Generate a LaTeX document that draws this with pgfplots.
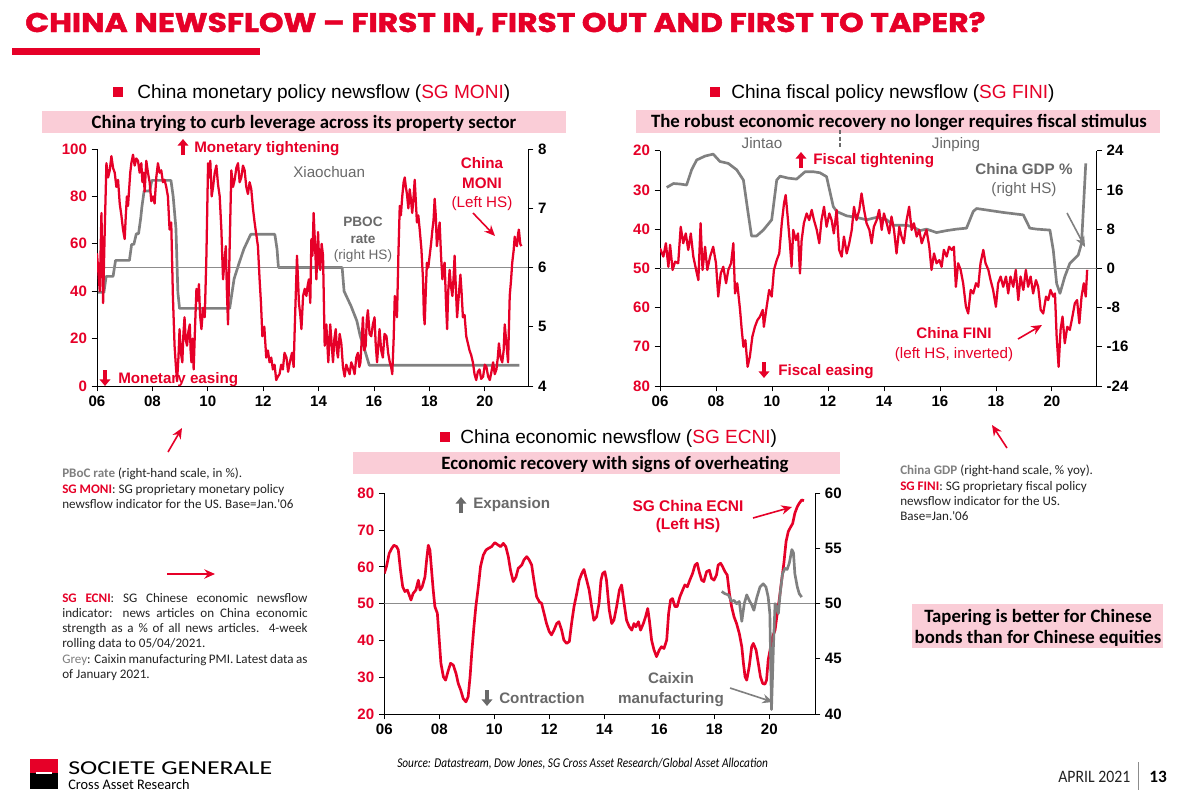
\documentclass[border=0pt]{standalone}
\usepackage{fontspec}
\setmainfont{Liberation Sans}
\newfontfamily\calfont{Carlito}
\newfontfamily\titlefont{Poppins}[BoldFeatures={FakeBold=1.6}]
\usepackage{graphicx}
\usepackage{pgfplots}
\pgfplotsset{compat=1.18}
\usetikzlibrary{arrows.meta}

\definecolor{sgred}{RGB}{230,0,40}
\definecolor{sggrey}{RGB}{128,128,128}
\definecolor{labgrey}{RGB}{105,105,105}
\definecolor{refgrey}{RGB}{140,140,140}
\definecolor{pinkbox}{RGB}{250,205,215}
\definecolor{notetxt}{RGB}{35,35,35}
\newcommand{\fsz}[1]{\fontsize{#1}{#1}\selectfont}

\pgfplotsset{
  sgaxis/.style={
    scale only axis,
    axis line style={line width=0.6pt,black},
    every tick/.style={line width=0.6pt,black},
    major tick length=4pt,
    tick align=outside,
    enlargelimits=false,
    xmin=2006,
    xtick={2006,2008,2010,2012,2014,2016,2018,2020},
    xticklabels={06,08,10,12,14,16,18,20},
    ticklabel style={font=\bfseries\fsz{11.3}},
    xticklabel style={text=black},
  },
  leftax/.style={sgaxis, axis y line*=left, axis x line*=bottom, yticklabel style={text=sgred}},
  rightax/.style={sgaxis, axis y line*=right, axis x line=none, yticklabel style={text=black}},
  redline/.style={sgred, line width=1.7pt, line join=round},
  greyline/.style={sggrey, line width=2pt, line join=round},
  refline/.style={refgrey, line width=1pt},
}

\begin{document}
\begin{tikzpicture}[x=0.75pt,y=-0.75pt]
\useasboundingbox (0,0) rectangle (1178,800);
\fill[white] (0,0) rectangle (1178,800);

% ---------- title ----------
\node[anchor=base west, inner sep=0pt, text=sgred] at (25,32)
  {\resizebox{720pt}{15pt}{\titlefont\bfseries CHINA NEWSFLOW – FIRST IN, FIRST OUT AND FIRST TO TAPER?}};
\fill[sgred] (12,48) rectangle (260,55);

% ---------- headers ----------
\fill[sgred] (113,87) rectangle (123,97);
\node[anchor=base west, inner sep=0pt, font=\fsz{14.3}] at (137,98) {China monetary policy newsflow ({\color{sgred}SG MONI})};
\fill[sgred] (710,87) rectangle (720,97);
\node[anchor=base west, inner sep=0pt, font=\fsz{14.3}] at (731,98) {China fiscal policy newsflow ({\color{sgred}SG FINI})};
\fill[sgred] (440,432) rectangle (450,442);
\node[anchor=base west, inner sep=0pt, font=\fsz{14.3}] at (460,443) {China economic newsflow ({\color{sgred}SG ECNI})};

\fill[pinkbox] (42,111) rectangle (566,133);
\node[anchor=base, inner sep=0pt, font=\calfont\bfseries\fsz{14.1}] at (304,128) {China trying to curb leverage across its property sector};
\fill[pinkbox] (636,110) rectangle (1160,133);
\node[anchor=base, inner sep=0pt, font=\calfont\bfseries\fsz{14.1}] at (899,127) {The robust economic recovery no longer requires fiscal stimulus};
\fill[pinkbox] (353,452) rectangle (840,474);
\node[anchor=base, inner sep=0pt, font=\calfont\bfseries\fsz{14.1}] at (615,469) {Economic recovery with signs of overheating};
\fill[pinkbox] (912,604) rectangle (1163,648);
\node[anchor=base, inner sep=0pt, font=\calfont\bfseries\fsz{14.1}] at (1038,622) {Tapering is better for Chinese};
\node[anchor=base, inner sep=0pt, font=\calfont\bfseries\fsz{14.1}] at (1038,643) {bonds than for Chinese equities};

% ---------- chart 1: MONI ----------
\begin{axis}[rightax, at={(72.75pt,-289.5pt)}, anchor=south west,
  width=323.25pt, height=177.75pt, xmax=2021.56,
  ymin=4, ymax=8, ytick={4,5,6,7,8}, yticklabels={4,5,6,7,8}]
\addplot[greyline] coordinates {
(2006.00,5.58)(2006.25,5.58)(2006.33,5.85)(2006.58,5.85)(2006.67,6.12)(2007.17,6.12)
(2007.25,6.39)(2007.33,6.39)(2007.42,6.57)(2007.50,6.57)(2007.58,6.84)(2007.62,7.02)
(2007.70,7.29)(2007.90,7.29)(2007.98,7.47)(2008.67,7.47)(2008.75,7.20)(2008.80,6.93)
(2008.85,6.66)(2008.92,5.58)(2008.98,5.31)(2010.79,5.31)(2010.87,5.56)(2010.95,5.81)
(2011.12,6.06)(2011.30,6.31)(2011.55,6.56)(2012.42,6.56)(2012.50,6.31)(2012.55,6.00)
(2014.85,6.00)(2014.92,5.60)(2015.17,5.35)(2015.38,5.10)(2015.50,4.85)(2015.67,4.60)
(2015.83,4.35)(2021.25,4.35)};
\end{axis}
\begin{axis}[leftax, at={(72.75pt,-289.5pt)}, anchor=south west,
  width=323.25pt, height=177.75pt, xmax=2021.56,
  ymin=0, ymax=100, ytick={0,20,40,60,80,100}, yticklabels={0,20,40,60,80,100}]
\addplot[refline] coordinates {(2006,50)(2021.56,50)};
\addplot[redline] coordinates {
(2006.00,56)(2006.10,40)(2006.16,73)(2006.22,35)(2006.28,66)(2006.34,94)(2006.40,88)(2006.46,91)
(2006.52,97)(2006.58,92)(2006.64,90)(2006.70,84)(2006.76,87)(2006.82,77)(2006.88,72)(2006.94,66)
(2007.00,62)(2007.04,72)(2007.08,80)(2007.12,76)(2007.16,83)(2007.20,90)(2007.24,94)(2007.30,97.6)
(2007.36,93)(2007.42,96)(2007.48,95)(2007.54,90)(2007.60,94)(2007.64,86)(2007.68,90)(2007.72,82)
(2007.78,95)(2007.84,90)(2007.90,86)(2007.96,78)(2008.02,80)(2008.08,77)(2008.14,88)(2008.20,94)
(2008.26,90)(2008.32,91)(2008.38,86)(2008.44,87)(2008.50,84)(2008.56,80)(2008.62,66)(2008.68,69)
(2008.74,38)(2008.80,17)(2008.85,8)(2008.89,2)(2008.94,12)(2008.98,24)(2009.03,14)(2009.08,10)
(2009.12,22)(2009.16,29)(2009.20,20)(2009.25,17)(2009.30,23)(2009.35,26)(2009.38,15)(2009.41,10)
(2009.45,20)(2009.49,7)(2009.54,25)(2009.59,41)(2009.64,36)(2009.68,43)(2009.72,30)(2009.77,24)
(2009.83,33)(2009.89,29)(2009.95,55)(2010.01,94)(2010.05,88)(2010.09,95)(2010.14,80)(2010.19,84)
(2010.25,90)(2010.31,93)(2010.37,85)(2010.43,80)(2010.49,66)(2010.55,45)(2010.60,52)(2010.65,59)
(2010.69,40)(2010.73,26)(2010.79,59)(2010.85,91)(2010.91,84)(2010.97,87)(2011.03,92)(2011.09,94)
(2011.15,86)(2011.21,88)(2011.27,93)(2011.33,91)(2011.39,84)(2011.45,81)(2011.51,86)(2011.57,83)
(2011.63,75)(2011.69,69)(2011.75,64)(2011.81,59)(2011.87,45)(2011.92,35)(2011.97,21)(2012.04,25)
(2012.11,12)(2012.17,15)(2012.23,10)(2012.29,12)(2012.35,7)(2012.41,9)(2012.47,2.5)(2012.53,4)
(2012.59,5)(2012.65,9)(2012.71,7)(2012.77,14)(2012.84,12)(2012.90,6)(2012.96,10)(2013.04,14)
(2013.10,8)(2013.14,25)(2013.18,40)(2013.22,55)(2013.26,44)(2013.29,35)(2013.34,30)(2013.38,24)
(2013.44,38)(2013.50,41)(2013.56,38)(2013.60,42)(2013.65,45)(2013.70,35)(2013.74,62)(2013.78,55)
(2013.82,73)(2013.87,60)(2013.92,45)(2013.98,65)(2014.02,52)(2014.06,49)(2014.11,60)(2014.16,55)
(2014.22,17)(2014.28,26)(2014.35,10)(2014.42,26)(2014.47,18)(2014.52,10)(2014.57,20)(2014.62,24)
(2014.66,15)(2014.70,12)(2014.76,22)(2014.82,18)(2014.88,8)(2014.94,4)(2015.00,9)(2015.06,7)
(2015.12,5)(2015.18,10)(2015.24,8)(2015.30,5)(2015.36,12)(2015.42,14)(2015.47,8)(2015.51,10)
(2015.56,20)(2015.60,29)(2015.65,15)(2015.70,17)(2015.74,28)(2015.78,32)(2015.84,22)(2015.90,21)
(2015.96,26)(2016.02,29)(2016.06,18)(2016.11,10)(2016.16,18)(2016.20,24)(2016.26,15)(2016.32,12)
(2016.38,22)(2016.45,21)(2016.51,14)(2016.57,10)(2016.62,8)(2016.66,5)(2016.71,20)(2016.75,38)
(2016.79,35)(2016.83,29)(2016.88,55)(2016.93,76)(2016.97,72)(2017.02,80)(2017.07,86)(2017.11,88)
(2017.15,84)(2017.19,81)(2017.24,75)(2017.29,83)(2017.34,78)(2017.38,73)(2017.43,80)(2017.47,87)
(2017.51,78)(2017.55,69)(2017.60,72)(2017.65,66)(2017.71,58)(2017.77,45)(2017.80,30)(2017.83,26)
(2017.87,40)(2017.91,52)(2017.96,50)(2018.01,55)(2018.06,60)(2018.11,66)(2018.15,70)(2018.19,79)
(2018.23,72)(2018.27,59)(2018.32,64)(2018.37,69)(2018.42,55)(2018.47,45)(2018.51,50)(2018.55,52)
(2018.60,35)(2018.64,24)(2018.68,40)(2018.73,49)(2018.78,42)(2018.83,38)(2018.87,45)(2018.91,55)
(2018.96,40)(2019.00,29)(2019.06,38)(2019.12,47)(2019.16,40)(2019.21,29)(2019.27,30)(2019.33,21)
(2019.39,18)(2019.45,15)(2019.51,13)(2019.57,10)(2019.63,5)(2019.69,2.5)(2019.75,6)(2019.81,7)
(2019.87,3)(2019.94,4)(2020.00,9)(2020.06,8)(2020.12,4)(2020.18,2.5)(2020.24,6)(2020.30,10)
(2020.36,5)(2020.42,7)(2020.47,12)(2020.51,18)(2020.57,12)(2020.63,10)(2020.68,15)(2020.72,26)
(2020.78,18)(2020.84,10)(2020.90,38)(2020.95,45)(2020.99,52)(2021.04,57)(2021.08,63)(2021.12,60)
(2021.16,59)(2021.20,64)(2021.23,66)(2021.28,60)(2021.32,59)};
\end{axis}

% chart 1 annotations
\draw[sgred, line width=2.4pt, -{Triangle[length=5pt,width=8pt]}] (183,155) -- (183,139);
\node[anchor=base west, inner sep=0pt, text=sgred, font=\bfseries\fsz{11.4}] at (194,152) {Monetary tightening};
\node[anchor=base west, inner sep=0pt, text=labgrey, font=\fsz{11.4}] at (293,177) {Xiaochuan};
\node[anchor=base, inner sep=0pt, text=sgred, font=\bfseries\fsz{11.4}] at (482,168) {China};
\node[anchor=base, inner sep=0pt, text=sgred, font=\bfseries\fsz{11.4}] at (482,188) {MONI};
\node[anchor=base, inner sep=0pt, text=sgred, font=\fsz{11.4}] at (482,207) {(Left HS)};
\node[anchor=base, inner sep=0pt, text=labgrey, font=\bfseries\fsz{10.2}] at (363,226) {PBOC};
\node[anchor=base, inner sep=0pt, text=labgrey, font=\bfseries\fsz{10.2}] at (363,243) {rate};
\node[anchor=base, inner sep=0pt, text=labgrey, font=\fsz{10.2}] at (363,259) {(right HS)};
\draw[sgred, line width=2.4pt, -{Triangle[length=5pt,width=8pt]}] (105,370) -- (105,386);
\node[anchor=base west, inner sep=0pt, text=sgred, font=\bfseries\fsz{11.4}] at (118,383) {Monetary easing};
\draw[sgred, line width=1.2pt, -{Stealth[length=8pt,width=7pt]}] (473,213) -- (495,236);

% ---------- chart 2: FINI ----------
\begin{axis}[rightax, at={(495pt,-289.5pt)}, anchor=south west,
  width=327.5pt, height=176.5pt, xmax=2021.6,
  ymin=-24, ymax=24, ytick={-24,-16,-8,0,8,16,24}, yticklabels={-24,-16,-8,0,8,16,24}]
\addplot[greyline] coordinates {
(2006.24,16.5)(2006.48,17.3)(2006.71,17.2)(2006.95,17.0)(2007.13,20.1)(2007.31,22.1)
(2007.61,22.9)(2007.90,23.3)(2008.14,21.8)(2008.44,21.4)(2008.74,20.1)(2008.98,18.0)
(2009.15,11.2)(2009.27,6.6)(2009.45,6.6)(2009.69,7.8)(2009.99,9.9)(2010.17,18.0)
(2010.29,18.8)(2010.58,18.4)(2010.88,18.2)(2011.18,19.7)(2011.48,19.7)(2011.71,19.5)
(2011.95,18.7)(2012.19,12.6)(2012.31,11.6)(2012.67,10.7)(2013.02,10.4)(2013.38,9.9)
(2013.74,10.4)(2014.10,9.9)(2014.33,8.8)(2014.81,8.8)(2015.05,8.4)(2015.29,7.7)
(2015.52,8.0)(2015.88,7.3)(2016.24,7.7)(2016.60,8.0)(2016.95,8.2)(2017.19,11.6)
(2017.31,12.2)(2017.67,11.9)(2018.26,11.4)(2018.98,10.9)(2019.21,8.2)(2019.45,8.0)
(2019.93,7.8)(2020.05,3.7)(2020.17,-3.1)(2020.29,-5.1)(2020.46,-1.7)(2020.64,1.0)
(2020.94,2.7)(2021.06,5.1)(2021.21,21.4)};
\end{axis}
\begin{axis}[leftax, at={(495pt,-289.5pt)}, anchor=south west,
  width=327.5pt, height=176.5pt, xmax=2021.6, y dir=reverse,
  ymin=20, ymax=80, ytick={20,30,40,50,60,70,80}, yticklabels={20,30,40,50,60,70,80}]
\addplot[refline] coordinates {(2006,50)(2021.6,50)};
\addplot[redline] coordinates {
(2006.00,44.9)(2006.12,47.0)(2006.21,43.6)(2006.30,49.6)(2006.36,44.0)(2006.45,50.4)
(2006.54,48.3)(2006.65,48.7)(2006.74,39.4)(2006.83,43.6)(2006.92,41.1)(2007.01,45.3)
(2007.10,41.1)(2007.19,47.0)(2007.29,50.4)(2007.37,53.0)(2007.45,38.5)(2007.52,50.4)
(2007.61,44.5)(2007.69,50.4)(2007.79,47.0)(2007.90,44.5)(2008.00,48.7)(2008.08,57.2)
(2008.17,51.3)(2008.26,49.6)(2008.36,53.8)(2008.44,50.4)(2008.54,48.7)(2008.62,43.6)
(2008.68,56.4)(2008.76,53.8)(2008.86,60.6)(2008.92,65.7)(2008.98,70.0)(2009.05,68.3)
(2009.13,75.1)(2009.21,72.5)(2009.30,67.4)(2009.39,64.9)(2009.48,63.2)(2009.57,62.3)
(2009.67,60.6)(2009.71,64.9)(2009.81,59.8)(2009.90,55.5)(2009.99,57.2)(2010.07,50.4)
(2010.17,47.9)(2010.26,46.2)(2010.35,38.5)(2010.43,33.4)(2010.49,31.3)(2010.56,36.8)
(2010.64,43.6)(2010.70,49.6)(2010.76,40.2)(2010.85,42.8)(2010.93,41.1)(2011.00,51.3)
(2011.06,42.8)(2011.14,38.5)(2011.24,36.0)(2011.33,37.7)(2011.42,35.1)(2011.50,37.7)
(2011.60,40.2)(2011.69,43.6)(2011.77,37.7)(2011.86,34.3)(2011.95,39.4)(2012.05,36.0)
(2012.13,37.7)(2012.21,41.1)(2012.31,35.1)(2012.40,45.3)(2012.49,47.0)(2012.57,41.9)
(2012.67,46.2)(2012.76,43.6)(2012.85,40.2)(2012.93,34.3)(2013.02,37.7)(2013.12,35.1)
(2013.20,30.9)(2013.29,35.1)(2013.38,38.5)(2013.48,40.2)(2013.56,43.6)(2013.64,39.4)
(2013.74,37.7)(2013.83,35.1)(2013.92,40.2)(2014.00,36.0)(2014.10,38.5)(2014.19,41.1)
(2014.27,36.8)(2014.36,40.2)(2014.45,46.2)(2014.55,39.4)(2014.63,41.9)(2014.71,43.6)
(2014.81,37.7)(2014.90,34.3)(2014.99,40.2)(2015.07,38.5)(2015.17,41.9)(2015.26,40.2)
(2015.35,43.6)(2015.43,41.9)(2015.52,40.2)(2015.62,44.5)(2015.70,50.4)(2015.79,46.2)
(2015.88,48.7)(2015.98,47.9)(2016.06,49.6)(2016.14,45.3)(2016.24,47.0)(2016.33,44.5)
(2016.42,45.3)(2016.50,44.5)(2016.57,54.7)(2016.65,48.7)(2016.74,50.4)(2016.83,53.8)
(2016.93,59.8)(2017.01,61.5)(2017.10,55.5)(2017.19,56.4)(2017.29,53.8)(2017.37,54.7)
(2017.45,48.7)(2017.55,45.3)(2017.63,48.7)(2017.73,50.4)(2017.81,53.0)(2017.90,55.5)
(2018.00,59.8)(2018.08,53.8)(2018.17,52.1)(2018.26,54.7)(2018.36,52.1)(2018.44,56.4)
(2018.52,52.1)(2018.62,54.7)(2018.71,50.4)(2018.80,58.1)(2018.88,52.1)(2018.98,55.5)
(2019.07,50.4)(2019.15,54.7)(2019.24,52.1)(2019.33,56.4)(2019.43,53.0)(2019.51,54.7)
(2019.60,60.6)(2019.69,61.5)(2019.79,57.2)(2019.87,58.1)(2019.95,55.5)(2020.05,57.2)
(2020.11,56.4)(2020.17,67.4)(2020.24,75.1)(2020.31,65.7)(2020.38,62.3)(2020.46,69.1)
(2020.55,64.9)(2020.64,65.7)(2020.71,63.2)(2020.82,58.9)(2020.90,58.1)(2020.98,64.0)
(2021.06,57.2)(2021.14,53.8)(2021.21,57.2)(2021.26,50.4)};
\end{axis}

% chart 2 annotations
\node[anchor=base, inner sep=0pt, text=labgrey, font=\fsz{11.4}] at (762,148) {Jintao};
\draw[labgrey, line width=1.2pt, dash pattern=on 3pt off 2pt] (840,130) -- (840,148);
\node[anchor=base, inner sep=0pt, text=labgrey, font=\fsz{11.4}] at (956,148) {Jinping};
\draw[sgred, line width=2.4pt, -{Triangle[length=5pt,width=8pt]}] (801,168) -- (801,152);
\node[anchor=base west, inner sep=0pt, text=sgred, font=\bfseries\fsz{11.4}] at (813,164) {Fiscal tightening};
\node[anchor=base, inner sep=0pt, text=labgrey, font=\bfseries\fsz{11.4}] at (1024,174) {China GDP \%};
\node[anchor=base, inner sep=0pt, text=labgrey, font=\fsz{11.4}] at (1024,193) {(right HS)};
\draw[sggrey, line width=1.2pt, -{Stealth[length=8pt,width=7pt]}] (1067,213) -- (1085,247);
\node[anchor=base, inner sep=0pt, text=sgred, font=\bfseries\fsz{11.4}] at (954,338) {China FINI};
\node[anchor=base, inner sep=0pt, text=sgred, font=\fsz{11.4}] at (954,358) {(left HS, inverted)};
\draw[sgred, line width=1.2pt, -{Stealth[length=8pt,width=7pt]}] (1018,339) -- (1042,325);
\draw[sgred, line width=2.4pt, -{Triangle[length=5pt,width=8pt]}] (764,362) -- (764,378);
\node[anchor=base west, inner sep=0pt, text=sgred, font=\bfseries\fsz{11.4}] at (778,375) {Fiscal easing};

% ---------- chart 3: ECNI ----------
\begin{axis}[leftax, at={(288.2pt,-535.5pt)}, anchor=south west,
  width=323pt, height=165.5pt, xmax=2021.66,
  ymin=20, ymax=80, ytick={20,30,40,50,60,70,80}, yticklabels={20,30,40,50,60,70,80}]
\addplot[refline] coordinates {(2006,50)(2021.66,50)};
\addplot[sgred, line width=2pt, line join=round] coordinates {
(2006.00,58.2)(2006.08,60.1)(2006.18,63.7)(2006.27,65.0)(2006.35,65.9)(2006.45,65.5)
(2006.51,64.6)(2006.59,59.1)(2006.67,54.6)(2006.75,53.3)(2006.84,53.7)(2006.91,52.3)
(2006.97,51.0)(2007.05,52.8)(2007.15,53.7)(2007.24,56.4)(2007.30,53.7)(2007.38,54.6)
(2007.48,57.3)(2007.54,61.9)(2007.60,65.9)(2007.66,64.6)(2007.72,59.1)(2007.78,53.7)
(2007.84,49.2)(2007.93,47.4)(2008.00,40.1)(2008.06,33.8)(2008.15,30.1)(2008.23,29.2)
(2008.33,31.9)(2008.41,33.8)(2008.51,33.3)(2008.61,31.0)(2008.69,28.3)(2008.78,26.5)
(2008.87,24.2)(2008.97,23.3)(2009.05,24.7)(2009.12,30.1)(2009.18,36.5)(2009.26,43.7)
(2009.33,49.2)(2009.42,54.6)(2009.50,60.1)(2009.60,63.2)(2009.70,64.6)(2009.78,65.0)
(2009.90,65.5)(2010.02,66.6)(2010.15,65.9)(2010.23,65.5)(2010.33,66.4)(2010.42,65.5)
(2010.51,62.8)(2010.59,59.1)(2010.69,56.0)(2010.79,57.3)(2010.87,59.6)(2011.00,60.5)
(2011.08,61.9)(2011.18,62.8)(2011.27,61.9)(2011.36,60.5)(2011.44,56.4)(2011.54,51.9)
(2011.64,50.5)(2011.72,50.1)(2011.81,47.4)(2011.90,44.6)(2012.00,42.4)(2012.08,41.5)
(2012.17,42.8)(2012.27,44.6)(2012.35,45.1)(2012.45,42.8)(2012.53,40.1)(2012.63,39.2)
(2012.73,39.7)(2012.81,44.6)(2012.90,49.2)(2013.00,52.8)(2013.09,56.4)(2013.18,58.2)
(2013.26,59.3)(2013.36,56.4)(2013.45,53.7)(2013.54,49.2)(2013.62,45.5)(2013.72,46.4)
(2013.81,50.1)(2013.88,56.4)(2013.94,58.2)(2014.02,58.7)(2014.08,56.4)(2014.18,48.3)
(2014.27,44.6)(2014.35,45.5)(2014.45,49.2)(2014.55,53.7)(2014.63,55.1)(2014.72,50.1)
(2014.81,45.5)(2014.91,43.7)(2015.00,42.8)(2015.08,44.6)(2015.15,43.7)(2015.24,45.1)
(2015.32,42.8)(2015.42,44.6)(2015.50,46.4)(2015.58,48.7)(2015.64,45.5)(2015.72,40.1)
(2015.81,37.4)(2015.90,35.6)(2016.00,37.4)(2016.08,38.3)(2016.17,37.8)(2016.27,40.1)
(2016.34,47.4)(2016.41,51.0)(2016.48,51.4)(2016.57,49.2)(2016.65,49.2)(2016.75,51.9)
(2016.85,53.7)(2016.93,55.1)(2017.02,54.6)(2017.11,56.4)(2017.21,58.2)(2017.30,60.5)
(2017.38,61.0)(2017.45,58.7)(2017.54,56.4)(2017.62,56.0)(2017.72,58.7)(2017.82,59.1)
(2017.90,56.9)(2017.99,56.4)(2018.08,57.8)(2018.14,60.5)(2018.23,61.0)(2018.30,60.1)
(2018.39,58.7)(2018.47,57.8)(2018.55,52.8)(2018.63,49.2)(2018.72,46.4)(2018.81,44.6)
(2018.91,41.9)(2019.00,38.3)(2019.06,33.8)(2019.12,30.1)(2019.18,29.2)(2019.27,32.9)
(2019.36,38.3)(2019.42,39.2)(2019.52,37.4)(2019.60,33.8)(2019.68,30.1)(2019.76,28.3)
(2019.84,28.1)(2019.90,29.2)(2019.96,34.7)(2020.05,38.3)(2020.12,41.0)(2020.21,42.8)
(2020.29,47.4)(2020.36,51.0)(2020.45,56.4)(2020.53,61.0)(2020.61,66.9)(2020.69,69.6)
(2020.78,70.9)(2020.85,71.8)(2020.93,74.6)(2021.02,76.4)(2021.09,77.3)(2021.18,78.2)
(2021.26,78.0)};
\end{axis}
\begin{axis}[rightax, at={(288.2pt,-535.5pt)}, anchor=south west,
  width=323pt, height=165.5pt, xmax=2021.66,
  ymin=40, ymax=60, ytick={40,45,50,55,60}, yticklabels={40,45,50,55,60}]
\addplot[greyline] coordinates {
(2018.27,51.1)(2018.39,50.9)(2018.51,50.8)(2018.63,50.2)(2018.72,50.3)(2018.81,50.0)
(2018.91,50.2)(2019.00,48.4)(2019.09,50.0)(2019.18,50.8)(2019.27,50.3)(2019.36,49.9)
(2019.44,49.4)(2019.54,50.5)(2019.66,51.5)(2019.78,51.8)(2019.88,51.5)(2019.96,50.6)
(2020.02,49.1)(2020.08,40.4)(2020.15,46.1)(2020.21,50.0)(2020.27,49.7)(2020.33,49.1)
(2020.39,50.8)(2020.48,52.7)(2020.57,53.2)(2020.65,53.1)(2020.73,53.7)(2020.82,54.9)
(2020.88,54.6)(2020.93,52.7)(2021.02,51.5)(2021.09,50.9)(2021.18,50.6)};
\end{axis}

% chart 3 annotations
\draw[labgrey, line width=2.4pt, -{Triangle[length=5pt,width=8pt]}] (461,513) -- (461,497);
\node[anchor=base west, inner sep=0pt, text=labgrey, font=\bfseries\fsz{11.4}] at (473,508) {Expansion};
\node[anchor=base, inner sep=0pt, text=sgred, font=\bfseries\fsz{11.6}] at (688,511) {SG China ECNI};
\node[anchor=base, inner sep=0pt, text=sgred, font=\bfseries\fsz{11.6}] at (688,529) {(Left HS)};
\draw[sgred, line width=1.2pt, -{Stealth[length=8pt,width=7pt]}] (753,518) -- (792,507);
\draw[labgrey, line width=2.4pt, -{Triangle[length=5pt,width=8pt]}] (487,690) -- (487,706);
\node[anchor=base west, inner sep=0pt, text=labgrey, font=\bfseries\fsz{11.4}] at (499,703) {Contraction};
\node[anchor=base, inner sep=0pt, text=labgrey, font=\bfseries\fsz{11.4}] at (671,683) {Caixin};
\node[anchor=base, inner sep=0pt, text=labgrey, font=\bfseries\fsz{11.4}] at (671,703) {manufacturing};
\draw[sggrey, line width=1.2pt, -{Stealth[length=8pt,width=7pt]}] (730,688) -- (773,702);

% ---------- side notes ----------
\draw[sgred, line width=1.2pt, -{Stealth[length=8pt,width=7pt]}] (168,452) -- (182,428);
\begin{scope}[every node/.style={anchor=base west, inner sep=0pt, text=notetxt, font=\calfont\fsz{9.8}}]
\node at (62,477) {{\color{sggrey}\bfseries PBoC rate} (right-hand scale, in \%).};
\node at (62,493) {{\color{sgred}\bfseries SG MONI}: SG proprietary monetary policy};
\node at (62,508) {newsflow indicator for the US. Base=Jan.'06};
\node at (62,602) {\makebox[184pt][s]{{\color{sgred}\bfseries SG ECNI}: SG Chinese economic newsflow}};
\node at (62,617) {\makebox[184pt][s]{indicator: news articles on China economic}};
\node at (62,632) {\makebox[184pt][s]{strength as a \% of all news articles. 4-week}};
\node at (62,647) {rolling data to 05/04/2021.};
\node at (62,663) {\makebox[184pt][s]{{\color{sggrey}Grey}: Caixin manufacturing PMI. Latest data as}};
\node at (62,678) {of January 2021.};
\node at (900,474) {{\color{sggrey}\bfseries China GDP} (right-hand scale, \% yoy).};
\node at (900,490) {{\color{sgred}\bfseries SG FINI}: SG proprietary fiscal policy};
\node at (900,505) {newsflow indicator for the US.};
\node at (900,520) {Base=Jan.'06};
\end{scope}
\draw[sgred, line width=1.2pt, -{Stealth[length=8pt,width=7pt]}] (167,574) -- (215,574);
\draw[sgred, line width=1.2pt, -{Stealth[length=8pt,width=7pt]}] (1007,448) -- (992,425);

% ---------- footer ----------
\fill[sgred] (30,759) rectangle (58,773);
\fill[black] (30,773) rectangle (58,789);
\fill[white] (36,772.3) rectangle (52,774.2);
\node[anchor=base west, inner sep=0pt] at (68,774) {\resizebox{153pt}{9.6pt}{\calfont\fsz{12}SOCIETE GENERALE}};
\node[anchor=base west, inner sep=0pt] at (68,789.5) {\resizebox{91pt}{7.6pt}{\calfont\fsz{10}Cross Asset Research}};
\node[anchor=base west, inner sep=0pt] at (397,767) {\resizebox{278pt}{7pt}{\calfont\itshape\fsz{8}Source: Datastream, Dow Jones, SG Cross Asset Research/Global Asset Allocation}};
\node[anchor=base west, inner sep=0pt, text=notetxt] at (1058,782) {\resizebox{54pt}{8.5pt}{\calfont\fsz{10}APRIL 2021}};
\draw[refgrey, line width=0.6pt] (1138,762) -- (1138,790);
\node[anchor=base west, inner sep=0pt] at (1149,782) {\resizebox{!}{8.5pt}{\calfont\bfseries\fsz{10}13}};
\end{tikzpicture}
\end{document}
